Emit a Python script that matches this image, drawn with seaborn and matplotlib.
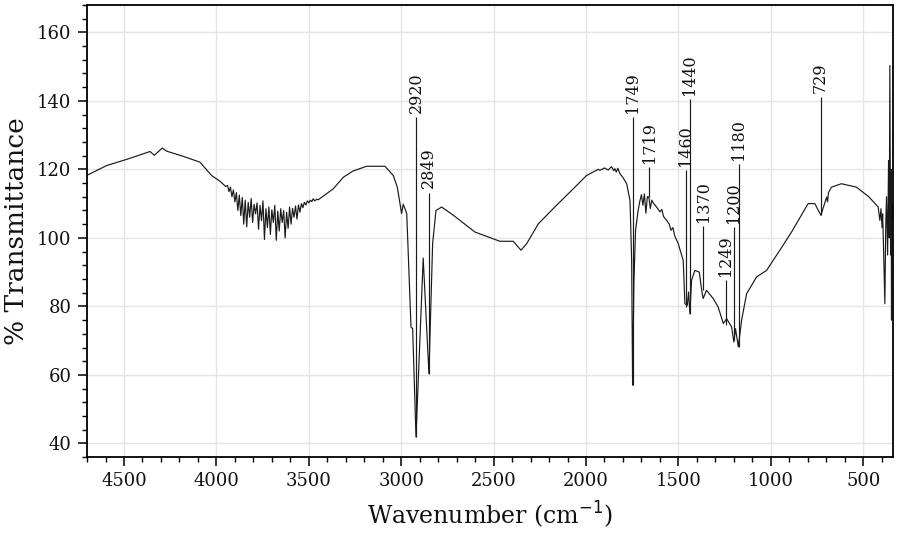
import numpy as np
import pandas as pd
import seaborn as sns
import matplotlib.pyplot as plt
from matplotlib.ticker import MultipleLocator

# spectrum (wavenumber, % transmittance)
wavenumber = [4702, 4594, 4480, 4359, 4336, 4293, 4269, 4180, 4089, 4026, 3980, 3950,
              3940, 3932, 3924, 3916, 3908, 3900, 3892, 3884, 3876, 3868, 3860, 3852,
              3844, 3836, 3828, 3820, 3812, 3804, 3796, 3788, 3780, 3772, 3764, 3756,
              3748, 3740, 3732, 3724, 3716, 3708, 3700, 3692, 3684, 3676, 3668, 3660,
              3652, 3644, 3636, 3628, 3620, 3612, 3604, 3596, 3588, 3580, 3572, 3564,
              3556, 3548, 3540, 3532, 3524, 3516, 3508, 3500, 3492, 3484, 3476, 3468,
              3456, 3449, 3368, 3313, 3261, 3187, 3088, 3043, 3021, 2998, 2989, 2970,
              2947, 2938, 2920, 2881, 2850, 2830, 2812, 2781, 2718, 2601, 2466, 2394,
              2352, 2321, 2258, 2160, 2060, 1997, 1934, 1925, 1900, 1880, 1862, 1850,
              1844, 1836, 1828, 1816, 1800, 1780, 1762, 1753, 1748, 1741, 1732, 1718,
              1708, 1700, 1692, 1684, 1676, 1668, 1660, 1652, 1644, 1636, 1618, 1600,
              1590, 1580, 1564, 1550, 1540, 1530, 1520, 1501, 1474, 1465, 1452, 1445,
              1438, 1429, 1411, 1387, 1374, 1366, 1348, 1312, 1285, 1257, 1239, 1212,
              1200, 1191, 1176, 1158, 1131, 1077, 1023, 951, 888, 798, 762, 729,
              698, 693, 688, 672, 618, 537, 470, 419, 410, 404, 398, 395,
              390, 383, 378, 374, 368, 363, 359, 356, 352, 349, 347, 344, 341]
transmittance = [118.2, 121.1, 123.0, 125.2, 124.1, 126.2, 125.3, 123.8, 122.1, 118.2, 116.5, 115.0,
                 115.3, 113.5, 114.8, 112.0, 114.0, 110.5, 113.2, 108.0, 112.5, 106.5, 111.8, 104.0,
                 111.0, 103.2, 110.4, 106.0, 111.5, 104.5, 109.8, 107.0, 110.2, 102.5, 109.5, 105.0,
                 110.8, 99.5, 108.5, 103.0, 109.0, 101.0, 108.2, 104.5, 109.5, 99.3, 107.8, 102.0,
                 108.5, 104.5, 108.0, 100.0, 107.5, 102.8, 109.0, 104.0, 108.6, 106.0, 109.3, 105.5,
                 109.6, 107.5, 110.0, 108.8, 110.4, 109.6, 110.8, 110.2, 111.0, 110.6, 111.4, 110.8,
                 111.3, 111.1, 114.3, 117.7, 119.5, 120.9, 120.9, 118.2, 114.8, 107.1, 109.8, 107.1,
                 74.0, 73.5, 41.9, 94.1, 60.4, 98.3, 108.0, 109.0, 106.6, 101.7, 99.0, 99.0,
                 96.4, 98.3, 104.1, 109.5, 114.8, 118.2, 120.0, 119.7, 120.4, 119.8, 120.8, 119.6,
                 120.2, 119.2, 120.3, 118.7, 117.6, 115.8, 110.9, 93.4, 57.0, 86.6, 102.2, 108.0,
                 110.9, 112.6, 109.5, 112.8, 107.2, 112.0, 111.9, 108.6, 111.0, 110.2, 109.0, 107.6,
                 108.3, 106.2, 105.1, 104.0, 102.2, 103.0, 100.6, 98.3, 93.4, 80.8, 80.3, 84.2,
                 77.9, 87.6, 90.5, 90.0, 84.7, 82.3, 84.7, 82.3, 79.8, 75.0, 76.4, 74.0,
                 69.6, 73.5, 68.2, 76.0, 83.7, 88.6, 90.5, 96.4, 101.7, 110.0, 110.0, 106.6,
                 111.9, 110.5, 113.2, 114.8, 115.8, 114.8, 112.0, 109.0, 105.1, 108.5, 103.0, 107.0,
                 97.0, 80.8, 104.0, 112.0, 95.0, 122.6, 100.0, 150.3, 95.0, 120.0, 76.0, 110.0, 105.0]

# peak markers: where the line sits, where it starts and ends, and the printed label
peak_pos = [2920, 2850, 1748, 1658, 1461, 1438, 1366, 1243, 1200, 1173, 731]
peak_low = [41.9, 60.4, 57.0, 111.9, 79.8, 77.9, 84.7, 74.5, 70.1, 68.2, 106.6]
peak_high = [135.2, 113.2, 135.2, 120.6, 119.7, 140.6, 103.4, 87.6, 103.1, 121.6, 141.0]
peak_label = ["2920", "2849", "1749", "1719", "1460", "1440", "1370", "1249", "1200", "1180", "729"]

df = pd.DataFrame({"wavenumber": wavenumber, "transmittance": transmittance})

sns.set_theme(style="whitegrid")
plt.rcParams["font.family"] = ["DejaVu Serif"]

fig = plt.figure(figsize=(8.98, 5.41), dpi=100)
ax = fig.add_axes([0.0965, 0.155, 0.8975, 0.836])

sns.lineplot(data=df, x="wavenumber", y="transmittance", sort=False, estimator=None,
             color="#1a1a1a", linewidth=0.85, ax=ax)

ax.vlines(peak_pos, peak_low, peak_high, color="#1a1a1a", linewidth=0.85)
for x, top, lab in zip(peak_pos, peak_high, peak_label):
    ax.annotate(lab, xy=(x, top), xytext=(0, 3), textcoords="offset points",
                rotation=90, ha="center", va="bottom", fontsize=11.5, color="#111111")

ax.set_xlim(4702, 341)
ax.set_ylim(36, 168)
ax.xaxis.set_major_locator(MultipleLocator(500))
ax.xaxis.set_minor_locator(MultipleLocator(100))
ax.yaxis.set_major_locator(MultipleLocator(20))
ax.yaxis.set_minor_locator(MultipleLocator(4))
ax.set_yticks(range(40, 161, 20))

ax.grid(True, which="major", color="#e4e4e4", linewidth=1.0)
ax.grid(False, which="minor")
for s in ax.spines.values():
    s.set_color("black")
    s.set_linewidth(1.3)

ax.tick_params(axis="both", which="major", direction="out", length=6.5, width=1.1,
               color="black", labelsize=13, labelcolor="#111111", pad=4.5)
ax.tick_params(axis="both", which="minor", direction="out", length=3.5, width=1.0,
               color="black")
ax.tick_params(which="both", bottom=True, left=True, top=False, right=False)

ax.set_xlabel("Wavenumber (cm$^{-1}$)", fontsize=17, color="#111111", labelpad=6)
ax.set_ylabel("% Transmittance", fontsize=19, color="#111111", labelpad=6)

fig.savefig("out.png", dpi=100)
